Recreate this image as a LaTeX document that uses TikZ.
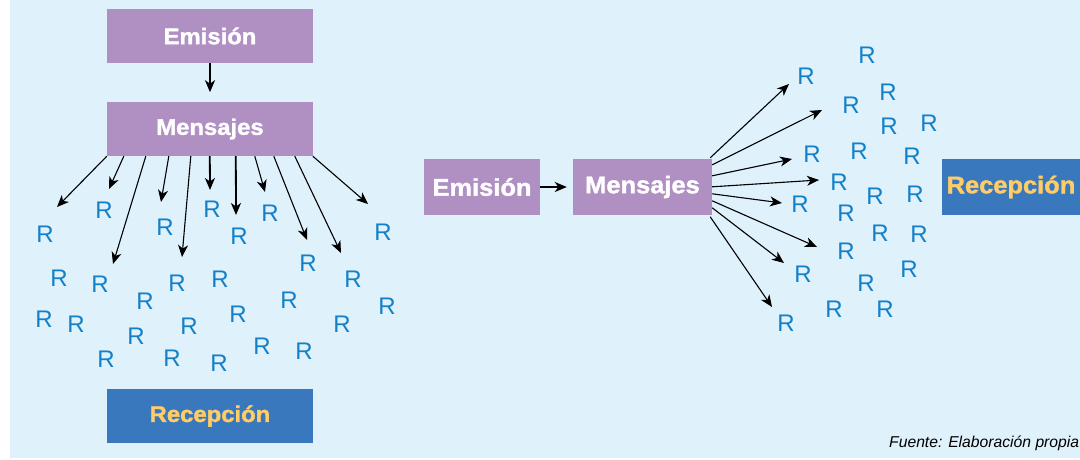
\documentclass[tikz,border=0pt]{standalone}
\usepackage{fontspec}
\setmainfont{Liberation Sans}
\newfontfamily\boxfont[FakeStretch=1.06,FakeBold=1.6]{Liberation Sans}
\usetikzlibrary{arrows.meta}
\definecolor{bgblue}{HTML}{DFF1FB}
\definecolor{purp}{HTML}{B08FC3}
\definecolor{dblue}{HTML}{3A78BD}
\definecolor{ylw}{HTML}{FFCC66}
\definecolor{rblue}{HTML}{1380C8}
\tikzset{
  pbox/.style={fill=purp, text=white, inner sep=0pt, font=\boxfont\bfseries\fontsize{22.5}{22.5}\selectfont},
  bbox/.style={fill=dblue, text=ylw, inner sep=0pt, font=\boxfont\bfseries\fontsize{22.5}{22.5}\selectfont},
  rbig/.style={font=\boxfont\bfseries\fontsize{24}{24}\selectfont},
  rlab/.style={text=rblue, inner sep=0pt, font=\fontsize{24}{24}\selectfont},
  fan/.style={-{Stealth[length=12pt,width=10pt,inset=3.5pt]}, line width=1.1pt},
  fanthick/.style={-{Stealth[length=12pt,width=10pt,inset=3.5pt]}, line width=1.8pt},
}
\begin{document}
\begin{tikzpicture}[x=1pt,y=-1pt]
\useasboundingbox (0,0) rectangle (1080,459);
\fill[white] (0,0) rectangle (1080,459);
\fill[bgblue] (10,0) rectangle (1080,458);
% left diagram
\node[pbox, minimum width=206pt, minimum height=54pt] (e1) at (210,36) {Emisión};
\node[pbox, minimum width=206pt, minimum height=54pt] (m1) at (210,129) {Mensajes};
\node[bbox, minimum width=206pt, minimum height=54pt] (rc1) at (210,416) {Recepción};
\draw[fanthick] (e1.south) -- ([yshift=-29pt]e1.south) coordinate (e1end);
% left fan end points
\foreach \i/\sx/\ex/\ey/\st in {1/0/57/207/fan, 2/17/109/189/fan, 3/39/113/264/fan, 4/62/161/202/fan,
  5/84/182/257/fan, 6/103/210/190/fanthick, 7/129/236/215/fanthick, 8/148/265/192/fan,
  9/167/307/240/fan, 10/188/341/253/fan, 11/206/368/204/fan}{
  \coordinate (lt\i) at (\ex,\ey);
  \draw[\st] ([xshift=\sx pt]m1.south west) -- (lt\i);
}
% left R labels
\foreach \x/\y [count=\k] in {104/210, 45/234, 165/227, 212/209, 239/236, 270/213, 383/232,
  308/263, 59/278, 100/284, 177/283, 220/279, 353/279, 145/301, 289/300, 387/306,
  44/319, 76/324, 238/314, 342/324, 136/336, 189/326, 262/346, 106/359, 172/358, 219/363, 304/351}{
  \node[rlab] (lr\k) at (\x,\y) {R};
}
% right diagram
\node[pbox, rbig, minimum width=116pt, minimum height=56pt] (e2) at (482,187) {Emisión};
\node[pbox, rbig, minimum width=139pt, minimum height=56pt] (m2) at (642.5,187) {Mensajes};
\node[bbox, rbig, minimum width=138pt, minimum height=56pt] (rc2) at (1011,187) {Recepción};
\draw[fanthick] (e2.east) -- ([xshift=-6pt]m2.west) coordinate (m2in);
\foreach \i/\sx/\sy/\ex/\ey in {1/-2/-1/789/84, 2/0/6/822/110, 3/0/17/792/159, 4/0/28/819/180,
  5/0/35/782/203, 6/0/42/817/247, 7/0/49/784/263, 8/-2/58/772/307}{
  \coordinate (rt\i) at (\ex,\ey);
  \draw[fan] ([xshift=\sx pt, yshift=-\sy pt]m2.north east) -- (rt\i);
}
\foreach \x/\y [count=\k] in {806/76, 867/55, 851/105, 888/92, 889/126, 929/123, 812/154, 859/151,
  912/156, 839/182, 800/204, 875/196, 915/194, 846/213, 880/233, 919/234, 846/251, 803/274,
  909/269, 866/283, 834/309, 885/309, 786/323}{
  \node[rlab] (rr\k) at (\x,\y) {R};
}
\node[anchor=base west, inner sep=0pt, font=\itshape\fontsize{15.7}{15.7}\selectfont] (src) at (889,447) {Fuente: Elaboración propia};
\end{tikzpicture}
\end{document}
